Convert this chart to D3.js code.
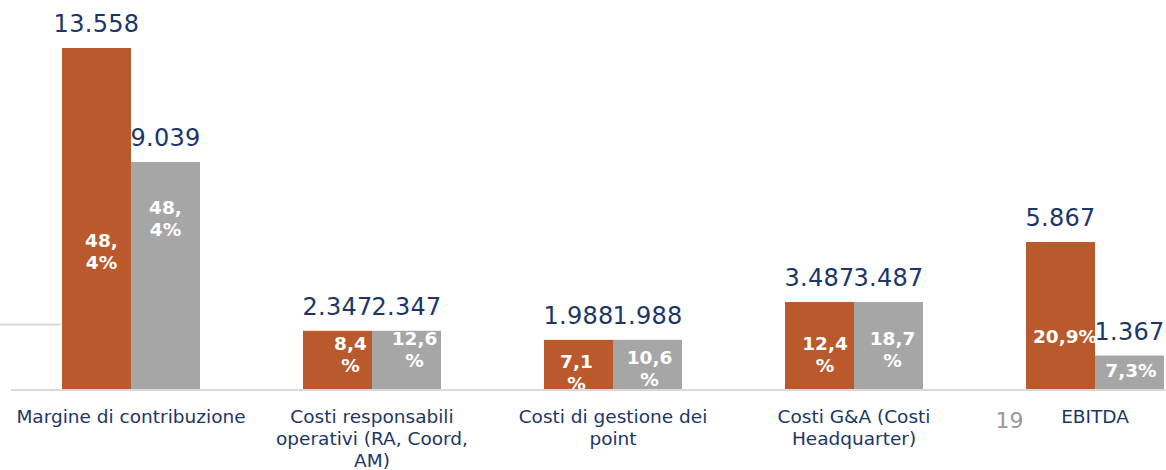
<!DOCTYPE html>
<html>
<head>
<meta charset="utf-8">
<script src="https://cdn.jsdelivr.net/npm/d3@7"></script>
<style>
  body { margin: 0; background: #fff; }
  svg { display: block; font-family: "DejaVu Sans", Verdana, sans-serif; }
</style>
</head>
<body>
<div id="viz"></div>
<script>
// data
var categories = [
    "Margine di contribuzione",
    "Costi responsabili\noperativi (RA, Coord,\nAM)",
    "Costi di gestione dei\npoint",
    "Costi G&A (Costi\nHeadquarter)",
    "EBITDA"
];
var valuesA = [13558, 2347, 1988, 3487, 5867];
var valuesB = [9039, 2347, 1988, 3487, 1367];
var labelsA = ["13.558", "2.347", "1.988", "3.487", "5.867"];
var labelsB = ["9.039", "2.347", "1.988", "3.487", "1.367"];
var pctA = ["48,\n4%", "8,4\n%", "7,1\n%", "12,4\n%", "20,9%"];
var pctB = ["48,\n4%", "12,6\n%", "10,6\n%", "18,7\n%", "7,3%"];

// layout nudges for the % labels (px, as placed in the original slide)
var nudgeA = [[5, 33], [13, -5], [-2, 8.5], [5.5, 8.5], [4.5, 20.5]];
var nudgeB = [[0, -56.5], [8, -10], [2, 4.5], [4, 3.5], [1.5, -1.5]];

var W = 1166, H = 470;
var base = 390;
var orange = "#b9592c", grey = "#a6a6a6", navy = "#1b3668";

var svg = d3.select("#viz")
        .append("svg")
        .attr("width", W)
        .attr("height", H);

var x = d3.scaleBand()
        .domain(d3.range(categories.length))
        .range([10.5, 1215.5])
        .paddingInner(1 - 138 / 241)
        .paddingOuter((1 - 138 / 241) / 2);

var xs = d3.scaleBand().domain(["A", "B"]).range([0, x.bandwidth()]);

var y = d3.scaleLinear().domain([0, 13558]).range([base, 48]);

// stray gridline piece at the left
svg.append("line")
    .attr("x1", 0).attr("x2", 61)
    .attr("y1", 324.5).attr("y2", 324.5)
    .style("stroke", "#d9d9d9")
    .style("stroke-width", 2);

var rows = categories.map(function(c, i) {
    return [
        {i: i, s: "A", v: valuesA[i], lab: labelsA[i], pct: pctA[i], nd: nudgeA[i], col: orange},
        {i: i, s: "B", v: valuesB[i], lab: labelsB[i], pct: pctB[i], nd: nudgeB[i], col: grey}
    ];
});
var bars = d3.merge(rows);

svg.append("g").selectAll("rect")
    .data(bars)
    .enter()
    .append("rect")
    .attr("x", function(d) { return x(d.i) + xs(d.s); })
    .attr("width", xs.bandwidth())
    .attr("y", function(d) { return y(d.v); })
    .attr("height", function(d) { return base - y(d.v); })
    .style("fill", function(d) { return d.col; });

// axis line
svg.append("line")
    .attr("x1", 11).attr("x2", W)
    .attr("y1", base).attr("y2", base)
    .style("stroke", "#d9d9d9")
    .style("stroke-width", 2);

// value labels
svg.append("g").selectAll("text")
    .data(bars)
    .enter()
    .append("text")
    .attr("x", function(d) { return x(d.i) + xs(d.s) + xs.bandwidth() / 2; })
    .attr("y", function(d) { return y(d.v) - 16; })
    .attr("text-anchor", "middle")
    .style("font-size", "24px")
    .style("letter-spacing", "0.3px")
    .style("fill", navy)
    .text(function(d) { return d.lab; });

// % labels inside bars
svg.append("clipPath").attr("id", "plotclip")
    .append("rect").attr("x", 0).attr("y", 0).attr("width", W).attr("height", base - 1);

var lh = 22;
svg.append("g").attr("clip-path", "url(#plotclip)")
    .selectAll("text")
    .data(bars)
    .enter()
    .append("text")
    .attr("text-anchor", "middle")
    .style("font-size", "18.5px")
    .style("font-weight", "bold")
    .style("fill", "#fff")
    .each(function(d) {
        var lines = d.pct.split("\n");
        var cx = x(d.i) + xs(d.s) + xs.bandwidth() / 2 + d.nd[0];
        var mid = (y(d.v) + base) / 2;
        var first = mid - (lines.length - 1) * lh / 2 + 6 + d.nd[1];
        d3.select(this).selectAll("tspan")
            .data(lines)
            .enter()
            .append("tspan")
            .attr("x", cx)
            .attr("y", function(l, k) { return first + k * lh; })
            .text(function(l) { return l; });
    });

// category labels
svg.append("g").selectAll("text")
    .data(categories)
    .enter()
    .append("text")
    .attr("text-anchor", "middle")
    .style("font-size", "18.5px")
    .style("fill", navy)
    .each(function(c, i) {
        var cx = x(i) + x.bandwidth() / 2;
        d3.select(this).selectAll("tspan")
            .data(c.split("\n"))
            .enter()
            .append("tspan")
            .attr("x", cx)
            .attr("y", function(l, k) { return 423 + k * 22; })
            .text(function(l) { return l; });
    });

// page number
svg.append("text")
    .attr("x", 1009.5)
    .attr("y", 428)
    .attr("text-anchor", "middle")
    .style("font-size", "22px")
    .style("fill", "#999")
    .text("19");
</script>
</body>
</html>
